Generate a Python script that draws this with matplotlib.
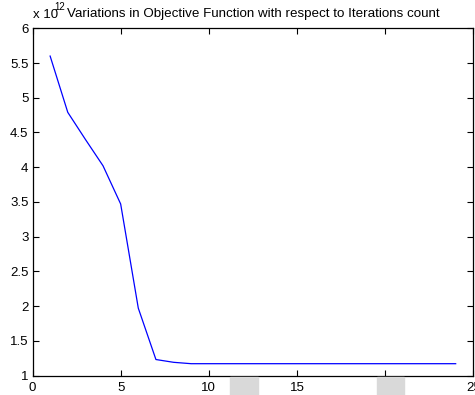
import matplotlib.pyplot as plt
from matplotlib.patches import Rectangle

plt.rcParams['font.family'] = ['Liberation Sans', 'DejaVu Sans']

# objective value per iteration (in units of 1e12)
iterations = list(range(1, 25))
objective = [5.60, 4.79, 4.40, 4.02, 3.47, 1.97, 1.23, 1.19, 1.17, 1.17,
             1.17, 1.17, 1.17, 1.17, 1.17, 1.17, 1.17, 1.17, 1.17, 1.17,
             1.17, 1.17, 1.17, 1.17]
x_ticks = [0, 5, 10, 15, 20, 25]
y_ticks = [1, 1.5, 2, 2.5, 3, 3.5, 4, 4.5, 5, 5.5, 6]

W, H = 475, 395
fig = plt.figure(figsize=(W / 100, H / 100), dpi=100)
left, right, top, bottom = 32.5, 473.3, 28.3, 375.5
ax = fig.add_axes([left / W, 1 - bottom / H, (right - left) / W, (bottom - top) / H])

ax.plot(iterations, objective, color='#0000ff', linewidth=0.9)

ax.set_xlim(0, 25)
ax.set_ylim(1, 6)
ax.set_xticks(x_ticks)
ax.set_yticks(y_ticks)
ax.set_yticklabels([f'{v:g}' for v in y_ticks])
ax.tick_params(direction='in', length=4, width=0.8, labelsize=9.5,
               top=True, right=True, pad=3)
ax.tick_params(axis='x', pad=5)
for s in ax.spines.values():
    s.set_linewidth(0.9)

ax.set_title('Variations in Objective Function with respect to Iterations count',
             fontsize=9.6, pad=8)
# multiplier label, superscript drawn separately so it sits higher
fig.text(33 / W, 1 - 18 / H, 'x 10', fontsize=9.5, ha='left', va='baseline')
fig.text(54.5 / W, 1 - 10.5 / H, '12', fontsize=7, ha='left', va='baseline')

# light grey boxes below the axis
for x0, x1 in [(230, 257.7), (377.3, 404.3)]:
    fig.patches.append(Rectangle((x0 / W, 0), (x1 - x0) / W, 18 / H,
                                 transform=fig.transFigure, color='#d9d9d9',
                                 zorder=0))

fig.savefig('out.png', dpi=100)
